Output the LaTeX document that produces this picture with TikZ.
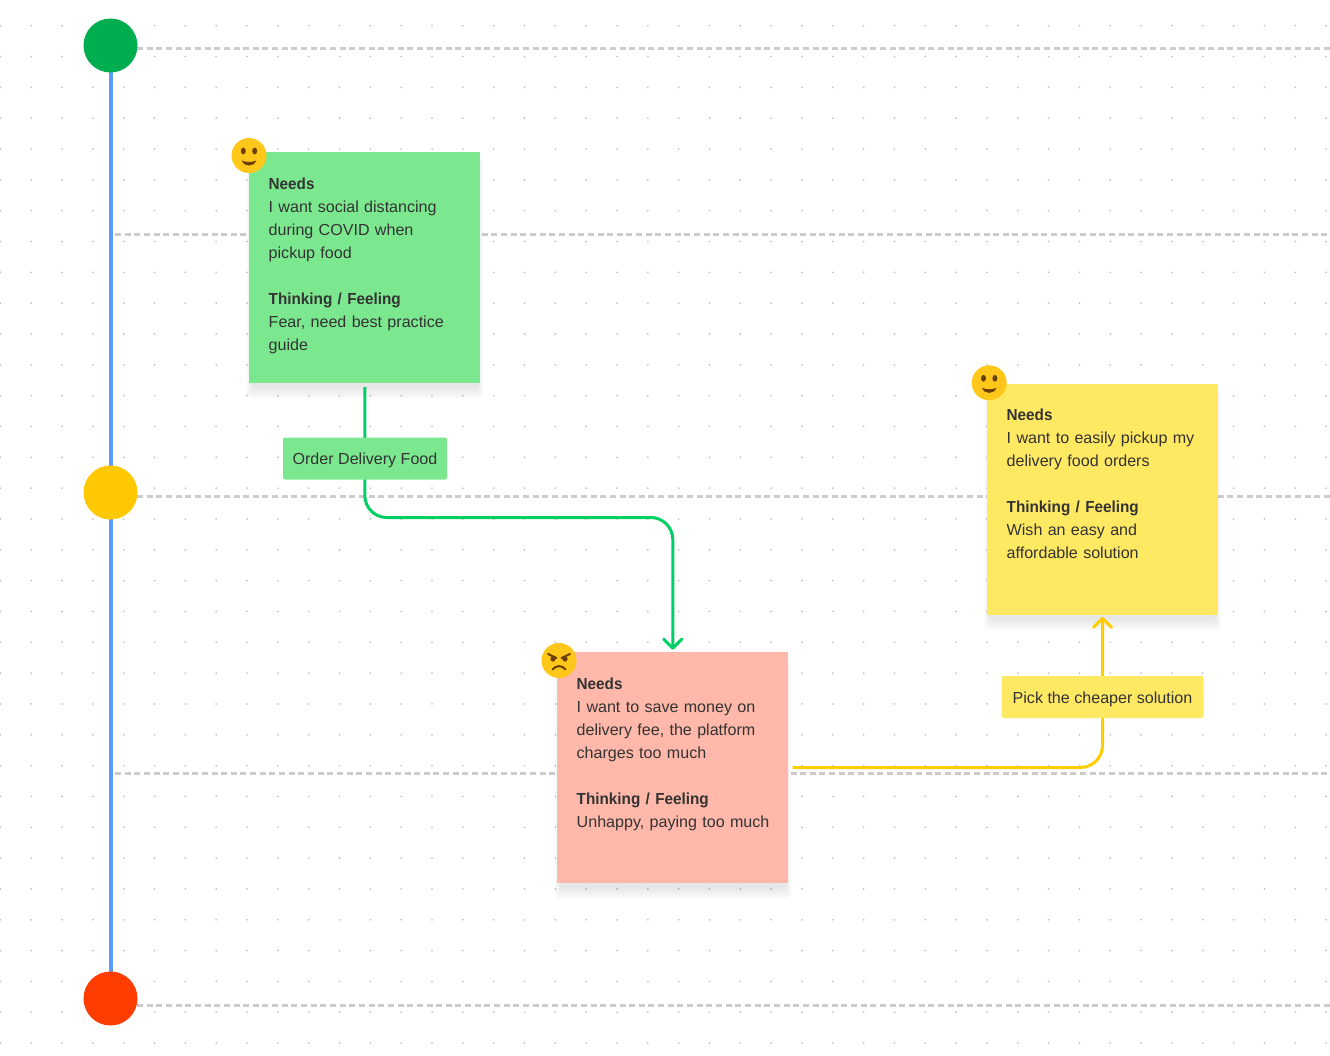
\documentclass[tikz,border=0pt]{standalone}
\usepackage{fontspec}
\setmainfont{Liberation Sans}[FakeStretch=1.005,BoldFeatures={FakeStretch=0.955}]
\usetikzlibrary{arrows.meta,calc}
\definecolor{ink}{HTML}{333333}
\definecolor{notegreen}{HTML}{7BE88F}
\definecolor{notepink}{HTML}{FFB8A9}
\definecolor{noteyellow}{HTML}{FFE963}
\definecolor{linegreen}{HTML}{00CF63}
\definecolor{lineyellow}{HTML}{FFCE00}
\definecolor{lineblue}{HTML}{5C9AFF}
\definecolor{dashgrey}{HTML}{CCCCCC}
\definecolor{dotgrey}{HTML}{C4C4C4}
\definecolor{facey}{HTML}{FFC71A}
\definecolor{facebrown}{HTML}{6B3F00}
\definecolor{stagegreen}{HTML}{00AE4F}
\definecolor{stageyellow}{HTML}{FFC800}
\definecolor{stagered}{HTML}{FF3D00}
\tikzset{
  x=1pt,y=-1pt,
  every node/.style={font=\fontsize{16}{23}\selectfont,text=ink},
  lane/.style={draw=dashgrey,line width=3pt,dash pattern=on 6pt off 3.65pt},
  stage/.style={circle,minimum size=54pt,inner sep=0pt},
  note/.style={minimum width=231pt,minimum height=231pt,inner sep=0pt},
  notetext/.style={anchor=north west,inner sep=0pt,text width=210pt,align=left},
  tag/.style={rounded corners=2pt,inner sep=0pt,minimum height=42pt,text height=16pt,text depth=3.5pt},
  flow/.style={line width=3pt,rounded corners=22pt,-{Straight Barb[length=9pt,width=18pt,line width=3pt,round]}},
  face/.style={circle,fill=facey,minimum size=35pt,inner sep=0pt},
  feat/.style={draw=facebrown,line width=2pt,line cap=round},
}
\newcommand{\softshadow}[1]{%
  \foreach \g in {0,1,...,11}{
    \fill[black,fill opacity=.006,rounded corners=4pt]
      ($(#1)+(-118.5+0.5*\g,-112+\g)$) rectangle ($(#1)+(118.5-0.5*\g,132-\g)$);
  }}
\newcommand{\faceeyes}[1]{%
  \fill[facebrown] ($(#1)+(-5.7,-4.5)$) ellipse (2.5pt and 3.4pt);
  \fill[facebrown] ($(#1)+(5.7,-4.5)$) ellipse (2.5pt and 3.4pt);}
\newcommand{\facesmile}[1]{%
  \fill[facebrown] ($(#1)+(-7.2,5)$) .. controls ($(#1)+(-3,7)$) and ($(#1)+(3,7)$) .. ($(#1)+(7.2,5)$)
    .. controls ($(#1)+(5,11.8)$) and ($(#1)+(-5,11.8)$) .. cycle;}
\begin{document}
\begin{tikzpicture}
\useasboundingbox (0,0) rectangle (1330,1056);
\fill[white] (0,0) rectangle (1330,1056);
% dot grid
\foreach \i in {0,...,43}{
  \foreach \j in {0,...,33}{
    \fill[dotgrey] ({0.4+30.83*\i},{25.7+30.83*\j}) circle (1pt);
  }}
% swimlanes
\coordinate (laneA) at (1335,49);
\coordinate (laneB) at (1335,234.5);
\coordinate (laneC) at (1335,496);
\coordinate (laneD) at (1335,773);
\coordinate (laneE) at (1335,1005);
\coordinate (timeTop) at (110.5,45.5);
\coordinate (timeMid) at (110.5,492.5);
\coordinate (timeEnd) at (110.5,998.5);
\draw[lane] (137,49) -- (laneA);
\draw[lane] (115,234.5) -- (laneB);
\draw[lane] (137,496) -- (laneC);
\draw[lane] (115,773) -- (laneD);
\draw[lane] (137,1005) -- (laneE);
\draw[lineblue,line width=4pt] (timeTop) -- (timeEnd);
\node[stage,fill=stagegreen] (startdot) at (timeTop) {};
\node[stage,fill=stageyellow] (middot) at (timeMid) {};
\node[stage,fill=stagered] (enddot) at (timeEnd) {};
% notes
\coordinate (gc) at (364.8,267.5);
\coordinate (pc) at (672.8,767.5);
\coordinate (yc) at (1102.5,499);
\softshadow{gc}
\softshadow{pc}
\softshadow{yc}
\node[note,fill=notegreen] (green) at (gc) {};
\node[note,fill=notepink] (pink) at (pc) {};
\node[note,fill=noteyellow] (yellow) at (yc) {};
\node[notetext] (greentext) at (268.5,178) {\textbf{Needs}\\I want social distancing\\during COVID when\\pickup food\\[23pt]\textbf{Thinking / Feeling}\\Fear, need best practice\\guide};
\node[notetext] (pinktext) at (576.5,678) {\textbf{Needs}\\I want to save money on\\delivery fee, the platform\\charges too much\\[23pt]\textbf{Thinking / Feeling}\\Unhappy, paying too much};
\node[notetext] (yellowtext) at (1006.5,409) {\textbf{Needs}\\I want to easily pickup my\\delivery food orders\\[23pt]\textbf{Thinking / Feeling}\\Wish an easy and\\affordable solution};
% connectors
\coordinate (viaG) at (0,517.5);
\draw[linegreen,flow,shorten <=4pt,shorten >=2pt] (green.south) -- (green.south |- viaG) -- (pink.north |- viaG) -- (pink.north);
\draw[lineyellow,flow,shorten <=4pt,shorten >=2pt] (pink.east) -- (yellow.south |- pink.east) -- (yellow.south);
\node[tag,fill=notegreen,minimum width=164pt] (ordertag) at (365,458.5) {Order Delivery Food};
\node[tag,fill=noteyellow,minimum width=202pt] (picktag) at (1102.5,697) {Pick the cheaper solution};
% faces
\node[face] (faceA) at (249,155.5) {};
\faceeyes{faceA}\facesmile{faceA}
\node[face] (faceC) at (989.2,382.8) {};
\faceeyes{faceC}\facesmile{faceC}
\node[face] (faceB) at (559,660.5) {};
\fill[facebrown] ($(faceB)+(-6,-1.5)$) circle (2.6pt);
\fill[facebrown] ($(faceB)+(6,-1.5)$) circle (2.6pt);
\draw[feat] ($(faceB)+(-11,-6.5)$) -- ($(faceB)+(-2.5,-2.5)$);
\draw[feat] ($(faceB)+(11,-6.5)$) -- ($(faceB)+(2.5,-2.5)$);
\draw[feat] ($(faceB)+(-6.5,9)$) .. controls ($(faceB)+(-3,4.5)$) and ($(faceB)+(3,4.5)$) .. ($(faceB)+(6.5,9)$);
\end{tikzpicture}
\end{document}
